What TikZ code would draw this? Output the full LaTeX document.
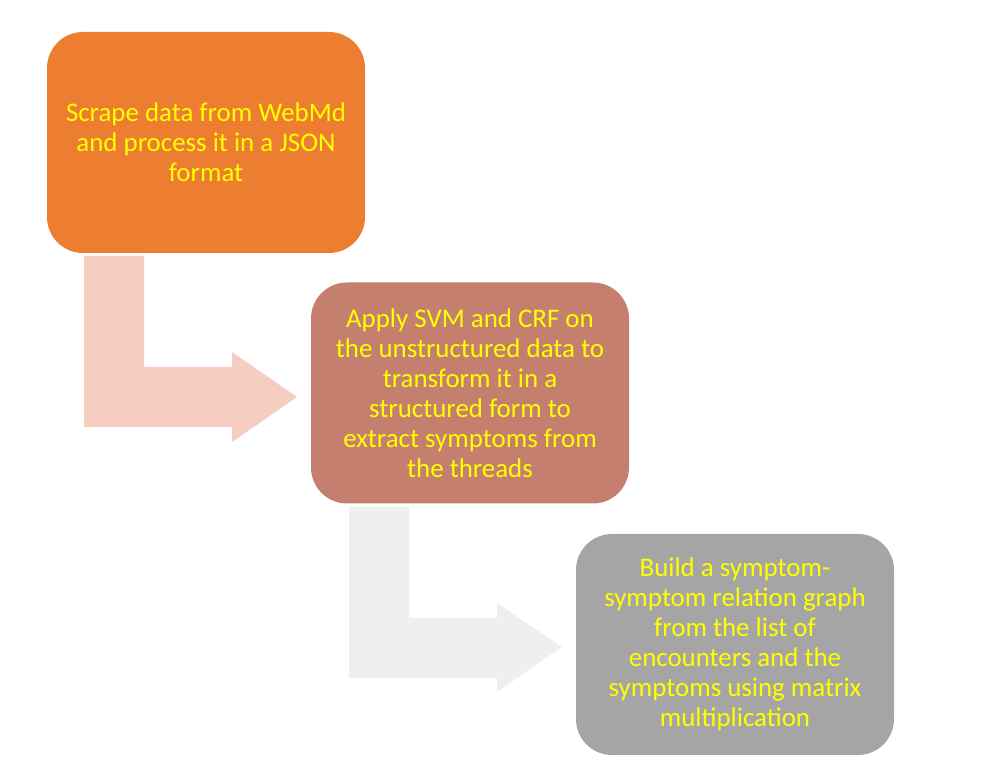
\documentclass[tikz,border=0pt]{standalone}
\usepackage{fontspec}
\setmainfont{Carlito}
\definecolor{boxA}{HTML}{ED7D31}
\definecolor{boxB}{HTML}{C47F6F}
\definecolor{boxC}{HTML}{A5A5A5}
\definecolor{arrA}{HTML}{F6CDC1}
\definecolor{arrB}{HTML}{EFEFEF}
\definecolor{txt}{HTML}{FFFF00}
\begin{document}
\begin{tikzpicture}[x=1pt,y=-1pt,
  stepbox/.style={fill=#1, draw=none, rounded corners=36pt, minimum width=318pt, minimum height=221pt,
    text=txt, align=center, inner sep=0pt, font=\fontsize{26.9}{30}\selectfont},
  bentarrow/.style={fill=#1, draw=none}]
\useasboundingbox (0,0) rectangle (994,775);
% bent arrows
\fill[arrA] (84,256) -- (144,256) -- (144,367) -- (232,367) -- (232,352) -- (297,397)
  -- (232,442) -- (232,427) -- (84,427) -- cycle;
\fill[arrB] (349,507) -- (409,507) -- (409,618) -- (497,618) -- (497,603) -- (562,647)
  -- (497,692) -- (497,678) -- (349,678) -- cycle;
% boxes
\node[stepbox=boxA] (s1) at (206,142.5) {Scrape data from WebMd\\and process it in a JSON\\format};
\node[stepbox=boxB] (s2) at (470,393) {Apply SVM and CRF on\\the unstructured data to\\transform it in a\\structured form to\\extract symptoms from\\the threads};
\node[stepbox=boxC] (s3) at (735,644.5) {Build a symptom-\\symptom relation graph\\from the list of\\encounters and the\\symptoms using matrix\\multiplication};
\end{tikzpicture}
\end{document}
